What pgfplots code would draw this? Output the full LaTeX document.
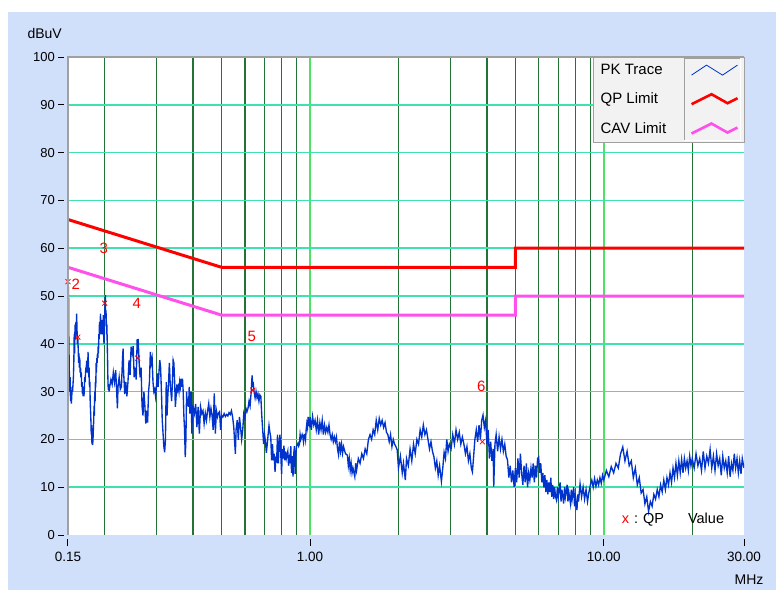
\documentclass[border=0pt]{standalone}
\usepackage{pgfplots}
\pgfplotsset{compat=1.18}
\usepackage{fontspec}
\setmainfont{Liberation Sans}
\definecolor{bgblue}{RGB}{208,223,250}
\definecolor{gridteal}{RGB}{64,224,176}
\definecolor{gridgreen}{RGB}{35,115,55}
\definecolor{gridlight}{RGB}{80,225,100}
\definecolor{trace}{RGB}{0,51,204}
\definecolor{cav}{RGB}{255,80,235}
\definecolor{framegray}{RGB}{160,160,160}
\definecolor{legbg}{RGB}{242,242,242}
\newcommand\yl[1]{#1\hspace{3pt}\rule[3.8pt]{6pt}{1pt}}
\newcommand\xl[1]{\rule{1pt}{7pt}\\#1}
\begin{document}
\begin{tikzpicture}[x=1pt,y=1pt]
\fill[white] (0,0) rectangle (776,590);
\fill[bgblue] (8,0) rectangle (776,578);
\begin{axis}[
  name=ax,
  at={(68pt,55pt)}, anchor=south west,
  scale only axis, width=676pt, height=478pt,
  xmode=log, xmin=0.15, xmax=30, ymin=0, ymax=100,
  axis background/.style={fill=white},
  axis line style={draw=none},
  major tick length=0pt, minor tick length=0pt,
  xtick={0.15,1,10,30},
  xticklabels={{\xl{0.15}},{\xl{1.00}},{\xl{10.00}},{\xl{30.00}}},
  xticklabel style={align=center, inner sep=0pt, anchor=north, yshift=-4pt, font=\fontsize{13.5}{15}\selectfont},
  minor xtick={0.2,0.3,0.4,0.5,0.6,0.7,0.8,0.9,2,3,4,5,6,7,8,9,20},
  xminorgrids=true,
  minor grid style={gridgreen, line width=1.3pt},
  extra x ticks={1,10},
  extra x tick labels={},
  extra x tick style={grid=major, major grid style={gridlight, line width=1.4pt}},
  ytick={0,10,...,100},
  yticklabels={\yl{0},\yl{10},\yl{20},\yl{30},\yl{40},\yl{50},\yl{60},\yl{70},\yl{80},\yl{90},\yl{100}},
  yticklabel style={inner sep=0pt, anchor=east, xshift=-4pt, font=\fontsize{13}{13}\selectfont},
  extra y ticks={10,20,30,40,50,60,70,80,90},
  extra y tick labels={},
  extra y tick style={grid=major, major grid style={gridteal, line width=1.5pt}},
  legend cell align=left,
  legend plot pos=right,
  legend style={at={(1,1)}, anchor=north east, draw=framegray, fill=legbg,
    font=\fontsize{15}{15}\selectfont, inner xsep=5pt, inner ysep=5pt, row sep=13pt,
    /tikz/every odd column/.append style={column sep=22pt}},
]
\addplot[trace, line width=1.35pt,
  legend image code/.code={\draw[trace, line width=0.8pt] (0pt,-5pt) -- (15pt,5pt) -- (31pt,-5pt) -- (46pt,5pt);}]
  table {
0.1500 55
0.1503 48
0.1506 52
0.1510 41
0.1515 35
0.1520 30
0.1525 33
0.1530 28
0.1535 29.5
0.1540 27.5
0.1545 29
0.1550 31
0.1555 30
0.1560 31.5
0.1565 33
0.1570 36
0.1575 42
0.1580 38
0.1585 44
0.1590 41
0.1595 44.5
0.1600 43
0.1605 46.3
0.1610 43
0.1615 40
0.1620 41
0.1625 39
0.1630 36
0.1635 38
0.1640 35
0.1645 37
0.1650 34
0.1655 35
0.1660 33
0.1665 34
0.1670 31
0.1675 32
0.1680 29.5
0.1685 30
0.1690 29
0.1695 31
0.1700 29
0.1705 30.5
0.1710 33
0.1715 32
0.1720 33.5
0.1725 35
0.1730 34
0.1735 36.5
0.1740 35
0.1745 36
0.1750 34
0.1755 38.3
0.1760 36
0.1765 33
0.1770 35
0.1775 31
0.1780 32
0.1785 28
0.1790 26
0.1795 24
0.1800 21
0.1805 23
0.1810 19
0.1815 20.5
0.1820 18.8
0.1825 20
0.1830 22
0.1835 24
0.1840 27
0.1845 25
0.1850 30
0.1855 28
0.1860 32
0.1865 31
0.1870 36
0.1875 34
0.1880 37
0.1885 36
0.1890 38
0.1895 37
0.1900 39.4
0.1905 38
0.1910 42
0.1915 41
0.1920 44.6
0.1925 43
0.1930 42
0.1935 46.3
0.1940 44
0.1945 43
0.1950 44.5
0.1955 42
0.1960 43
0.1965 45
0.1970 42
0.1975 44
0.1980 46
0.1985 41
0.1990 40
0.1995 44
0.2000 46
0.2005 48
0.2010 50.2
0.2015 46
0.2020 47
0.2025 45
0.2030 42
0.2035 44
0.2040 40
0.2045 37
0.2050 33
0.2055 31
0.2060 30.3
0.2065 31.5
0.2070 30
0.208 31
0.210 32.5
0.212 31.5
0.214 34
0.216 32
0.218 34.5
0.220 29
0.221 26.5
0.222 31
0.224 33
0.226 30.5
0.228 31
0.230 37
0.231 39
0.232 34
0.234 29.5
0.236 32
0.238 29
0.240 32
0.242 36.5
0.244 33.5
0.246 39.4
0.248 38
0.250 39.5
0.252 33
0.254 35
0.256 32.5
0.258 41
0.259 38
0.260 41
0.262 36
0.264 33
0.266 35
0.268 27
0.270 25
0.272 30
0.274 27
0.276 23.3
0.278 26
0.280 23.5
0.282 30
0.284 32
0.286 38.3
0.288 36
0.290 37
0.292 32
0.294 30
0.296 30.5
0.298 29
0.300 31
0.302 33.8
0.304 31
0.306 34
0.308 36.6
0.310 35
0.312 30
0.314 24
0.316 21.2
0.318 18.5
0.320 17.3
0.322 20
0.324 32
0.326 25
0.328 29
0.330 32
0.332 36
0.334 32
0.336 30
0.338 28
0.340 32
0.342 36.6
0.344 36
0.346 32
0.348 26.8
0.350 29
0.352 31.5
0.354 30.3
0.356 31
0.358 30
0.360 32
0.362 31
0.364 32.7
0.366 31
0.368 32.7
0.370 30
0.372 25
0.374 22
0.376 16.3
0.378 20
0.380 30
0.382 27
0.384 28.5
0.386 26.8
0.388 31
0.390 25.4
0.392 29
0.394 30
0.396 21.2
0.398 27
0.400 26.8
0.404 25.4
0.408 27.4
0.412 22.6
0.416 26.8
0.420 21.2
0.424 26.8
0.428 25.4
0.432 26
0.436 23.3
0.440 25.5
0.444 24
0.448 26
0.452 27.5
0.456 24.7
0.460 26.5
0.464 25
0.468 22
0.472 29.6
0.476 21.2
0.480 26
0.484 24.7
0.488 25.5
0.492 25.8
0.496 22
0.500 25
0.505 24.7
0.510 25.4
0.515 24.8
0.520 25.2
0.525 24.9
0.530 25.6
0.535 25.2
0.540 26
0.545 24.7
0.550 22.6
0.553 20
0.557 17
0.560 22
0.565 24
0.570 19.9
0.575 24.7
0.580 22.6
0.585 20
0.590 22
0.595 25.4
0.600 24.5
0.605 26.5
0.610 25.8
0.615 26.5
0.620 28
0.625 27
0.630 29.7
0.635 33.4
0.638 31
0.640 32
0.645 30
0.650 28.7
0.655 30
0.660 28.7
0.665 29.5
0.670 28
0.675 29.3
0.680 29
0.685 25
0.690 22
0.695 19
0.700 21
0.705 19.6
0.710 17.2
0.715 19
0.720 21
0.725 22.9
0.730 21.5
0.735 20.5
0.740 15.6
0.745 19
0.750 15.6
0.755 17
0.760 13.2
0.765 16
0.770 15.6
0.775 21
0.780 15
0.785 19
0.790 21
0.795 17
0.800 12.8
0.805 18
0.810 16
0.815 18.7
0.820 15.6
0.825 17.5
0.830 16
0.840 17.5
0.845 14.5
0.850 16
0.855 15
0.860 18.6
0.865 13
0.870 16.5
0.875 12.2
0.880 17
0.885 18.6
0.890 12.8
0.895 17
0.900 18.6
0.910 19.2
0.915 18.6
0.920 19
0.925 21
0.930 20
0.940 21
0.945 20.5
0.950 19.5
0.955 21
0.960 21
0.965 20
0.970 22
0.975 23.3
0.980 22.5
0.985 24.7
0.990 23
0.995 22.8
1.00 24.7
1.01 22
1.02 24.8
1.03 23
1.04 24
1.05 22
1.06 24
1.07 21
1.08 23.5
1.09 22
1.10 24
1.11 21
1.12 23
1.13 21.5
1.14 22.5
1.15 21.5
1.16 23
1.17 21
1.18 20
1.19 21
1.20 19.5
1.21 20.5
1.22 19.5
1.23 20.5
1.24 18
1.25 16.8
1.26 19.5
1.27 17.5
1.28 19
1.29 17.1
1.30 18.5
1.32 17
1.34 16.7
1.35 14.5
1.36 16
1.37 13.5
1.38 15
1.39 13
1.40 14
1.42 12.2
1.43 15
1.44 13.5
1.46 16
1.48 15
1.50 17
1.52 16
1.54 18
1.56 17
1.58 20
1.60 21
1.62 20
1.64 22
1.66 21
1.68 24
1.70 22
1.72 24.4
1.74 23
1.76 24
1.78 22.5
1.80 23.5
1.82 21.5
1.84 21
1.86 19.5
1.88 21
1.90 18.5
1.92 20
1.94 19
1.96 18.5
1.98 17.8
2.00 14
2.03 16.5
2.06 13
2.08 15
2.11 11.5
2.13 16
2.16 14.5
2.19 18
2.22 15.5
2.25 19
2.28 17
2.31 20
2.34 19
2.37 22
2.40 20.5
2.43 23
2.46 21
2.49 22
2.52 20
2.55 18
2.58 19.5
2.61 17.5
2.64 16.4
2.67 14
2.70 15.5
2.73 12.5
2.76 14.5
2.80 11.2
2.83 14
2.86 17.3
2.89 16
2.92 20
2.95 17.5
2.98 19
3.02 18
3.06 21
3.10 19
3.14 22
3.18 20
3.22 21.5
3.26 19
3.30 20.5
3.34 19
3.38 17
3.42 18.5
3.46 15.5
3.50 17
3.54 14
3.57 13.2
3.60 16
3.64 20
3.68 22
3.72 19.5
3.76 23
3.80 20
3.84 24
3.88 25.1
3.92 22.5
3.96 24
4.00 19
4.04 22
4.08 16
4.12 19.5
4.16 15.5
4.20 18
4.22 10.1
4.26 19
4.30 21
4.35 17.5
4.40 20.5
4.45 18
4.50 20
4.55 17.5
4.60 19
4.65 16.5
4.70 15.7
4.75 12
4.80 14.5
4.85 11
4.90 13.5
4.95 10.1
5.00 14
5.05 11
5.10 16
5.15 12
5.20 17
5.25 13
5.30 10.5
5.35 14.5
5.40 11
5.45 15
5.50 10
5.55 13
5.60 11.5
5.65 14
5.70 12
5.75 15
5.80 11
5.85 14.5
5.90 12
5.95 16
6.00 16.3
6.05 13
6.10 15
6.15 11
6.20 13
6.25 10
6.30 12.5
6.35 9
6.40 11.5
6.45 8.5
6.50 11
6.55 9
6.60 12
6.65 8
6.70 10.5
6.75 7.5
6.80 10
6.85 8
6.90 7.3
6.95 10
7.00 8
7.10 11
7.15 7
7.20 9.5
7.30 6.6
7.35 10
7.40 8
7.50 10.5
7.55 7
7.60 9
7.70 6.6
7.75 9.5
7.80 7.5
7.90 10
7.95 6
8.00 8
8.10 5.2
8.15 8.5
8.20 7
8.30 10.7
8.40 8
8.50 10
8.60 7.5
8.70 9.5
8.80 7
8.90 9
9.00 10.5
9.10 11.5
9.20 10
9.30 11.8
9.40 10.2
9.50 11.5
9.60 10.5
9.70 12
9.80 10.8
9.90 12.5
10.0 11.5
10.2 13.5
10.4 12.2
10.6 14.3
10.8 13
11.0 15
11.2 14
11.4 17
11.6 18.4
11.8 15.5
12.0 17.5
12.2 14.5
12.4 15.5
12.6 12
12.8 14
13.0 10.5
13.2 12
13.4 8.8
13.6 9.5
13.8 6.5
14.0 8
14.2 4.9
14.4 7
14.6 6
14.8 8.5
15.0 7.5
15.2 9.5
15.4 8
15.6 10.5
15.8 9
16.0 11.5
16.2 9.5
16.4 12
16.6 10.5
16.8 13
17.0 11
17.2 14
17.4 12
17.6 15
17.8 12.5
18.0 15.5
18.2 13
18.4 15.8
18.6 13
18.8 16
19.0 14
19.2 15.5
19.4 13.5
19.6 16.5
19.8 14.5
20.0 16
20.3 14
20.6 17
20.9 14.5
21.2 16
21.5 13.5
21.8 17.5
22.1 14
22.4 16.5
22.7 15
23.0 17.9
23.3 14
23.6 16.5
23.9 13.5
24.2 17
24.5 14.5
24.8 16
25.1 12.5
25.4 16.5
25.7 14
26.0 15.5
26.3 13
26.6 16.5
26.9 12.2
27.2 15
27.5 13.5
27.8 17
28.1 14
28.4 16
28.7 13
29.0 15.5
29.3 12.8
29.6 16
30.0 14
};
\addlegendentry{PK Trace}
\addplot[red, line width=3pt,
  legend image code/.code={\draw[red, line width=2.6pt] (0pt,-5pt) -- (20pt,5pt) -- (36pt,-4pt) -- (46pt,1pt);}]
  coordinates {(0.15,66) (0.5,56) (5,56) (5,60) (30,60)};
\addlegendentry{QP Limit}
\addplot[cav, line width=3pt,
  legend image code/.code={\draw[cav, line width=2.6pt] (0pt,-5pt) -- (20pt,5pt) -- (36pt,-4pt) -- (46pt,1pt);}]
  coordinates {(0.15,56) (0.5,46) (5,46) (5,50) (30,50)};
\addlegendentry{CAV Limit}
\addplot[only marks, mark=x, red, mark size=3.5pt, line width=0.8pt, forget plot]
  coordinates {(0.15,53) (0.162,41.4) (0.2,48.5) (0.259,37) (0.639,30.3) (3.86,19.5)};
\begin{scope}[font=\fontsize{15}{15}\selectfont, red]
\node at (axis cs:0.1593,52.5) {2};
\node at (axis cs:0.1985,60) {3};
\node at (axis cs:0.257,48.5) {4};
\node at (axis cs:0.634,41.6) {5};
\node at (axis cs:3.83,31.2) {6};
\end{scope}
\node[anchor=west, font=\fontsize{14.5}{14.5}\selectfont] at (axis cs:11.2,3.3)
  {\textcolor{red}{x}\hspace{5pt}:\hspace{5pt}QP\hspace{24pt}Value};
\end{axis}
\draw[framegray, line width=1pt] (684,449) -- (684,531) -- (740,531);
\draw[white, line width=1pt] (740,531) -- (740,449) -- (684,449);
\draw[framegray, line width=1.6pt] (ax.south west) -- (ax.north west) -- (ax.north east);
\node[anchor=west, font=\fontsize{14}{14}\selectfont] at (24,557) {dBuV};
\node[anchor=east, font=\fontsize{14}{14}\selectfont] at (767,10) {MHz};
\end{tikzpicture}
\end{document}
